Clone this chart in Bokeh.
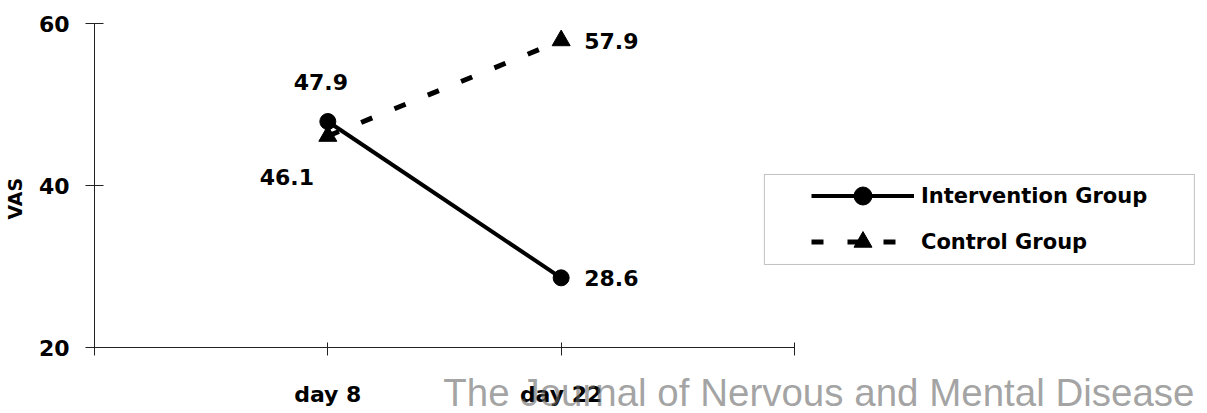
from bokeh.plotting import figure
from bokeh.models import Range1d, FixedTicker, Legend, LegendItem, BoxAnnotation, Label
from bokeh.core.properties import value
from bokeh.embed import file_html
from bokeh.resources import INLINE

# ---- data ----
days = ["day 8", "day 22"]
intervention = [47.9, 28.6]
control = [46.1, 57.9]
y_ticks = [20, 40, 60]
series_names = ["Intervention Group", "Control Group"]

xs = [i + 1 for i in range(len(days))]
FONT = "DejaVu Sans"

p = figure(frame_width=1102, frame_height=324,
           min_border_left=90, min_border_right=0, min_border_top=23, min_border_bottom=58,
           x_range=Range1d(0, 4.723), y_range=Range1d(20, 60),
           output_backend="svg", toolbar_location=None)
p.outline_line_color = None
p.xgrid.visible = False
p.ygrid.visible = False
p.background_fill_color = "white"
p.border_fill_color = "white"

# axes
xa = p.xaxis[0]
xa.ticker = FixedTicker(ticks=[0] + xs + [len(days) + 1])
xa.major_label_overrides = {0: "", len(days) + 1: ""} | {x: d for x, d in zip(xs, days)}
xa.bounds = (0, len(days) + 1)
xa.minor_tick_line_color = None
xa.major_tick_in = 5
xa.major_tick_out = 8
xa.major_label_standoff = 26
xa.major_label_text_font = FONT
xa.major_label_text_font_style = "bold"
xa.major_label_text_font_size = "22px"
xa.major_label_text_color = "black"
xa.axis_line_color = "#222222"
xa.major_tick_line_color = "#222222"

ya = p.yaxis[0]
ya.ticker = FixedTicker(ticks=y_ticks)
ya.minor_tick_line_color = None
ya.major_tick_in = 9
ya.major_tick_out = 9
ya.major_label_standoff = 16
ya.major_label_text_font = FONT
ya.major_label_text_font_style = "bold"
ya.major_label_text_font_size = "22px"
ya.major_label_text_color = "black"
ya.axis_line_color = "#222222"
ya.major_tick_line_color = "#222222"
ya.axis_label = "VAS" + "\u00a0" * 4
ya.axis_label_text_font = FONT
ya.axis_label_text_font_style = "bold"
ya.axis_label_text_font_size = "19px"
ya.axis_label_text_color = "black"
ya.axis_label_standoff = 10

# series
l1 = p.line(xs, intervention, line_width=4, line_color="black")
m1 = p.scatter(xs, intervention, marker="circle", size=16, fill_color="black", line_color="black")
l2 = p.line(xs, control, line_width=5, line_color="black", line_dash="12 24")
m2 = p.scatter(xs, control, marker="triangle", size=18, fill_color="black", line_color="black")

# data labels (offsets in screen px)
placements = {
    "intervention": [(-7, -40, "center"), (23, 0, "left")],
    "control": [(-41, 41, "center"), (23, 0, "left")],
}
for key, vals in (("intervention", intervention), ("control", control)):
    for i, v in enumerate(vals):
        dx, dy, align = placements[key][i]
        p.text(x=[xs[i]], y=[v], text=[f"{v:.1f}"], x_offset=dx, y_offset=dy,
               text_align=align, text_baseline="middle",
               text_font=value(FONT), text_font_style="bold",
               text_font_size="22px", text_color="black")

# legend frame
p.add_layout(BoxAnnotation(left=2.871, right=4.714, bottom=30.25, top=41.36,
                           fill_color=None, line_color="#333333", line_width=1))
legend = Legend(items=[LegendItem(label=series_names[0], renderers=[l1, m1]),
                       LegendItem(label=series_names[1], renderers=[l2, m2])],
                location=(717, 83), margin=0, padding=0, spacing=1,
                glyph_width=103, glyph_height=45, label_height=45,
                label_standoff=7, label_text_font=FONT, label_text_font_style="bold",
                label_text_font_size="21px", label_text_color="black",
                border_line_color=None, background_fill_alpha=0)
p.add_layout(legend)

# watermark (in the bottom panel, so it is not clipped to the frame)
p.add_layout(Label(x=1100, y=60, x_units="screen", y_units="screen",
                   text="The Journal of Nervous and Mental Disease",
                   text_align="right", text_baseline="alphabetic",
                   text_font="Liberation Sans", text_font_size="38.5px",
                   text_color="#666666", text_alpha=0.6), "below")

open("out.html", "w").write(file_html(p, INLINE))
